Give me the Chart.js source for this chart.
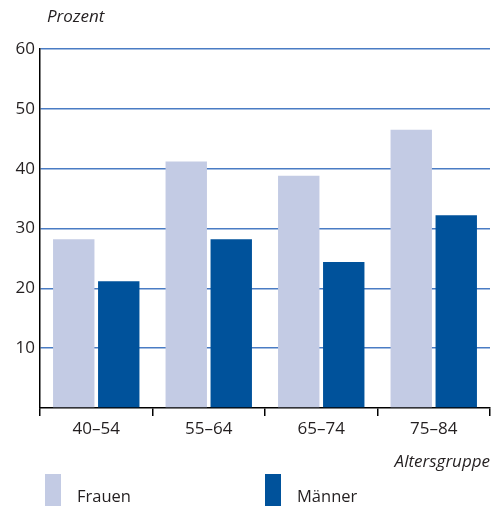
<!DOCTYPE html>
<html>
<head>
<meta charset="utf-8">
<script src="https://cdn.jsdelivr.net/npm/chart.js@4"></script>
<style>
  html, body { margin: 0; padding: 0; background: #fff; }
  #wrap { position: relative; width: 492px; height: 507px; }
</style>
</head>
<body>
<div id="wrap"><canvas id="chart" width="492" height="507"></canvas></div>
<script>
// Chart data
const categories = ['40–54', '55–64', '65–74', '75–84'];
const frauen = [28.2, 41.2, 38.8, 46.5];
const maenner = [21.2, 28.2, 24.4, 32.2];
const yTicks = [0, 10, 20, 30, 40, 50, 60];

const FONT = '"Open Sans", "DejaVu Sans", sans-serif';
const TEXT = '#231f20';
const GRID = '#4a7cc4';

// axis titles and legend drawn onto the canvas
const extras = {
    id: 'extras',
    afterDraw(chart) {
        const c = chart.ctx;
        const area = chart.chartArea;
        c.save();
        c.fillStyle = TEXT;
        c.font = 'italic 17px ' + FONT;
        c.textBaseline = 'middle';
        c.textAlign = 'left';
        c.fillText('Prozent', 47, 17);
        c.textAlign = 'right';
        c.fillText('Altersgruppe', area.right, 462);

        const spots = [45, 265];
        c.font = '16.5px ' + FONT;
        c.textAlign = 'left';
        chart.data.datasets.forEach((ds, i) => {
            c.fillStyle = ds.backgroundColor;
            c.fillRect(spots[i], 474, 16, 32);
            c.fillStyle = TEXT;
            c.fillText(ds.label, spots[i] + 32, 497);
        });
        c.restore();
    }
};

new Chart(document.getElementById('chart'), {
    type: 'bar',
    data: {
        labels: categories,
        datasets: [
            { label: 'Frauen', data: frauen, backgroundColor: '#c3cbe4' },
            { label: 'Männer', data: maenner, backgroundColor: '#00529b' }
        ]
    },
    options: {
        responsive: false,
        animation: false,
        layout: { padding: { top: 49, right: 2, left: 0, bottom: 0 } },
        datasets: {
            bar: { categoryPercentage: 0.8, barPercentage: 0.92 }
        },
        plugins: {
            legend: { display: false },
            title: { display: false },
            tooltip: { enabled: false }
        },
        scales: {
            x: {
                afterFit(scale) { scale.height = 99; },
                border: { display: true, color: '#000', width: 1.5 },
                grid: {
                    offset: true,
                    drawOnChartArea: false,
                    drawTicks: true,
                    tickLength: 8,
                    color: '#000',
                    lineWidth: 1.5
                },
                ticks: {
                    color: TEXT,
                    padding: 3,
                    font: { family: FONT, size: 17 }
                }
            },
            y: {
                min: 0,
                max: 60,
                afterFit(scale) { scale.width = 40; },
                afterBuildTicks(scale) {
                    scale.ticks = yTicks.map(v => ({ value: v }));
                },
                border: { display: true, color: '#000', width: 1.5 },
                grid: {
                    drawTicks: false,
                    lineWidth: 1.5,
                    color: ctx => ctx.tick && ctx.tick.value === 0 ? 'rgba(0,0,0,0)' : GRID
                },
                ticks: {
                    color: TEXT,
                    padding: 5,
                    font: { family: FONT, size: 17 },
                    callback: v => v === 0 ? '' : v
                }
            }
        }
    },
    plugins: [extras]
});
</script>
</body>
</html>
